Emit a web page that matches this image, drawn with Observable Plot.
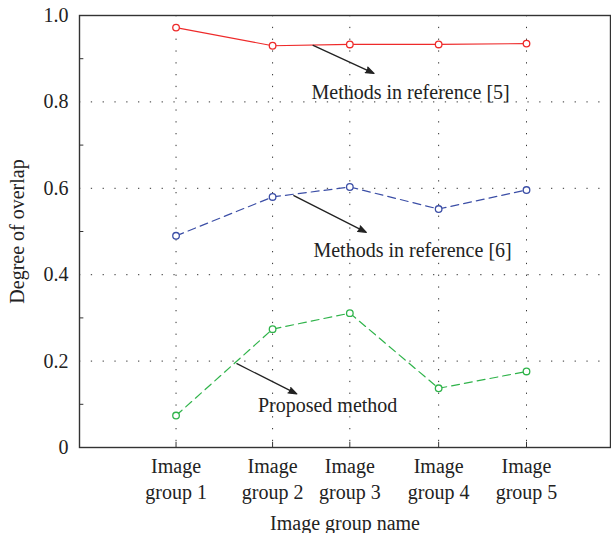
<!DOCTYPE html>
<html>
<head>
<meta charset="utf-8">
<script src="https://cdn.jsdelivr.net/npm/d3@7"></script>
<script src="https://cdn.jsdelivr.net/npm/@observablehq/plot@0.6"></script>
<style>
  html, body { margin: 0; padding: 0; background: #fff; }
  #chart svg { display: block; }
</style>
</head>
<body>
<div id="chart"></div>
<script>
// Categories and their positions along the x axis
const groups = ["Image\ngroup 1", "Image\ngroup 2", "Image\ngroup 3", "Image\ngroup 4", "Image\ngroup 5"];
const groupPos = [1, 2, 2.8, 3.72, 4.63];

// Series values
const ref5 = [0.972, 0.930, 0.933, 0.933, 0.935];
const ref6 = [0.490, 0.580, 0.603, 0.552, 0.596];
const proposed = [0.074, 0.274, 0.311, 0.137, 0.176];

const seriesNames = ["Methods in reference [5]", "Methods in reference [6]", "Proposed method"];
const seriesColors = ["#ee2a2a", "#3b4ea6", "#2fb34a"];
const seriesDash = [null, "8,5", "8,5"];

// Annotations (data units): arrow start, arrow end, label position
const annotLabels = ["Methods in reference [5]", "Methods in reference [6]", "Proposed method"];
const annotArrowX1 = [2.42, 2.22, 1.63];
const annotArrowY1 = [0.931, 0.583, 0.194];
const annotArrowX2 = [3.05, 2.97, 2.25];
const annotArrowY2 = [0.866, 0.498, 0.124];
const annotTextX = [3.43, 3.45, 2.57];
const annotTextY = [0.822, 0.456, 0.097];

// Tick values and axis titles
const yMajor = [0, 0.2, 0.4, 0.6, 0.8, 1.0];
const yGrid = [0.2, 0.4, 0.6, 0.8];
const yMinor = [0.1, 0.3, 0.5, 0.7, 0.9];
const xTitle = "Image group name";
const yTitle = "Degree of overlap";

const allSeries = [ref5, ref6, proposed];
const rows = [];
allSeries.forEach((vals, s) => vals.forEach((v, i) => rows.push({series: seriesNames[s], s, x: groupPos[i], y: v})));
const annots = annotLabels.map((t, i) => ({t, x1: annotArrowX1[i], y1: annotArrowY1[i], x2: annotArrowX2[i], y2: annotArrowY2[i], tx: annotTextX[i], ty: annotTextY[i]}));
const xTicks = groups.map((g, i) => ({g, x: groupPos[i]}));

const font = "Liberation Serif";
const fs = 20;

const marks = [
  Plot.ruleY(yGrid, {stroke: "#333", strokeWidth: 1, strokeDasharray: "1.3,10.5"}),
  Plot.ruleX(groupPos, {stroke: "#333", strokeWidth: 1, strokeDasharray: "1.3,10.5"}),
  Plot.ruleY(yMinor, {x1: 0, x2: 0.045, stroke: "#333", strokeWidth: 1}),
  Plot.ruleX(groupPos, {y1: 0, y2: 0.012, stroke: "#333", strokeWidth: 1}),
  Plot.frame({stroke: "#333", strokeWidth: 1.4}),
  Plot.text(xTicks, {x: "x", y: 0, text: "g", lineAnchor: "top", dy: 7, lineHeight: 1.3, fontSize: fs, fill: "#222", fontFamily: font}),
  Plot.text([xTitle], {frameAnchor: "bottom", lineAnchor: "middle", dy: 76, fontSize: fs, fill: "#222", fontFamily: font}),
  Plot.text([yTitle], {frameAnchor: "left", textAnchor: "middle", lineAnchor: "middle", rotate: -90, dx: -62, fontSize: fs, fill: "#222", fontFamily: font})
];
allSeries.forEach((vals, s) => {
  const d = rows.filter(r => r.s === s);
  marks.push(Plot.line(d, {x: "x", y: "y", stroke: seriesColors[s], strokeWidth: 1.2, strokeDasharray: seriesDash[s] || undefined}));
  marks.push(Plot.dot(d, {x: "x", y: "y", r: 3.3, stroke: seriesColors[s], strokeWidth: 1.3, fill: "white"}));
});
marks.push(Plot.arrow(annots, {x1: "x1", y1: "y1", x2: "x2", y2: "y2", stroke: "#222", fill: "#222", strokeWidth: 1.3, headLength: 10, headAngle: 40}));
marks.push(Plot.text(annots, {x: "tx", y: "ty", text: "t", fontSize: fs, fill: "#222", fontFamily: font}));

const chart = Plot.plot({
  width: 611,
  height: 533,
  marginLeft: 79,
  marginRight: 1,
  marginTop: 15,
  marginBottom: 86,
  style: {fontFamily: font, fontSize: fs + "px", color: "#222", background: "white"},
  x: {
    type: "linear",
    domain: [0, 5.5],
    axis: null
  },
  y: {
    domain: [0, 1],
    ticks: yMajor,
    tickFormat: d => d === 0 ? "0" : d.toFixed(1),
    tickSize: 0,
    tickPadding: 11,
    label: null
  },
  marks
});
document.getElementById("chart").appendChild(chart);
</script>
</body>
</html>
